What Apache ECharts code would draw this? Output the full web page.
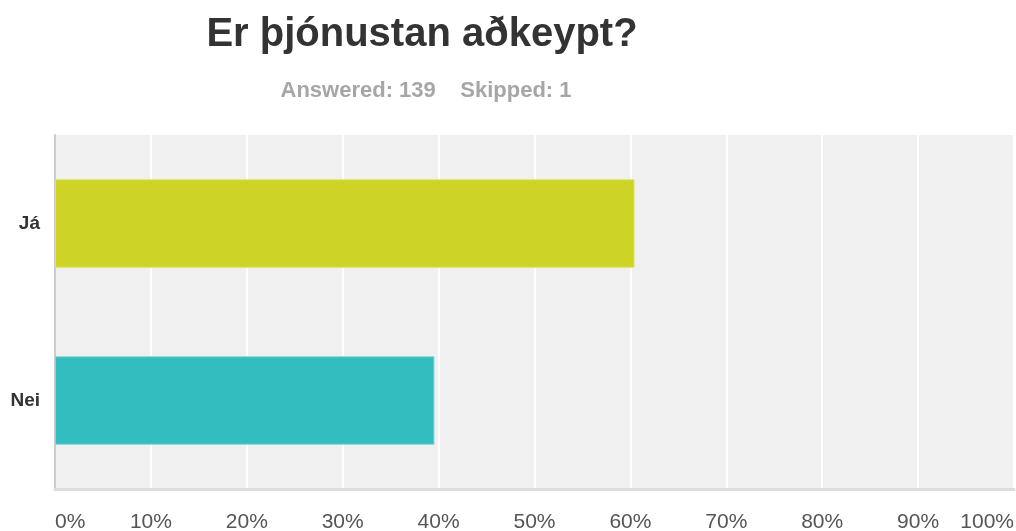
<!DOCTYPE html>
<html>
<head>
<meta charset="utf-8">
<script src="https://cdn.jsdelivr.net/npm/echarts@6/dist/echarts.min.js"></script>
<style>html,body{margin:0;padding:0;background:#fff;}#c{width:1016px;height:531px;}</style>
</head>
<body>
<div id="c"></div>
<script>
const categories = ['Já', 'Nei'];
const values = [60.43, 39.57];
const barColors = ['#cdd426', '#33bdbf'];
const tickLabels = ['0%','10%','20%','30%','40%','50%','60%','70%','80%','90%','100%'];
const titleText = 'Er þjónustan aðkeypt?';
const subText = 'Answered: 139    Skipped: 1';

const chart = echarts.init(document.getElementById('c'), null, {renderer: 'canvas'});
chart.setOption({
  animation: false,
  backgroundColor: '#ffffff',
  title: [
    {text: titleText, left: 417, top: 10, textAlign: 'center',
     textStyle: {fontFamily: 'Liberation Sans, Arial', fontSize: 40, fontWeight: 'bold', color: '#333333'}},
    {text: subText, left: 421, top: 75, textAlign: 'center',
     textStyle: {fontFamily: 'Liberation Sans, Arial', fontSize: 22, fontWeight: 'bold', color: '#a6a6a6'}}
  ],
  grid: {left: 55, right: 2, top: 135, bottom: 42, show: true, backgroundColor: '#f0f0f0', borderWidth: 0, containLabel: false, outerBoundsMode: 'none'},
  xAxis: {
    type: 'value', min: 0, max: 100, interval: 10,
    axisLine: {show: true, lineStyle: {color: '#dddddd', width: 3}},
    axisTick: {show: false},
    splitLine: {show: true, lineStyle: {color: '#ffffff', width: 2}},
    axisLabel: {
      margin: 23, fontFamily: 'Liberation Sans, Arial', fontSize: 21, color: '#555555',
      alignMinLabel: 'left', alignMaxLabel: 'right',
      formatter: (v) => tickLabels[Math.round(v / 10)]
    }
  },
  yAxis: {
    type: 'category', data: categories, inverse: true,
    axisLine: {show: true, lineStyle: {color: '#cccccc', width: 2}},
    axisTick: {show: false},
    splitLine: {show: false},
    axisLabel: {margin: 15, fontFamily: 'Liberation Sans, Arial', fontSize: 19, fontWeight: 'bold', color: '#333333'}
  },
  series: [{
    type: 'bar',
    barWidth: '50%',
    data: values.map((v, i) => ({value: v, itemStyle: {color: barColors[i], borderColor: i === 0 ? '#dde46a' : '#7fd6d8', borderWidth: 1}})),
    silent: true
  }]
});
</script>
</body>
</html>
